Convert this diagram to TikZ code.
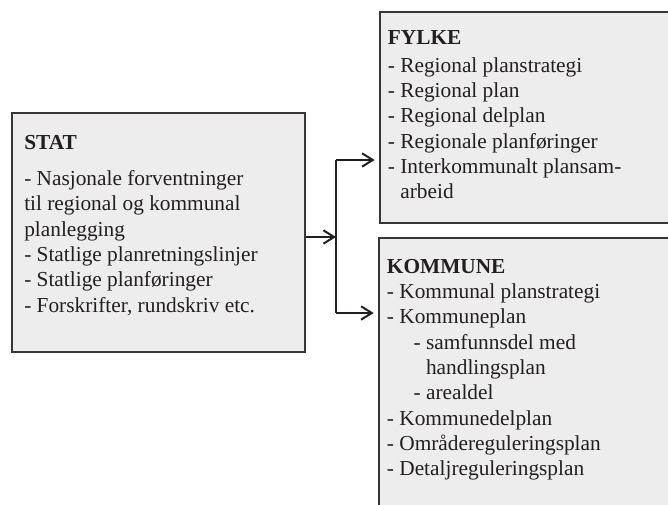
\documentclass[tikz,border=0pt]{standalone}
\usepackage{fontspec}
\setmainfont{Liberation Serif}
\usetikzlibrary{arrows.meta, positioning, fit}
\definecolor{boxgray}{HTML}{EDEDED}
\definecolor{inkdark}{HTML}{231F20}
\tikzset{
  panel/.style={rectangle, draw=inkdark!90, line width=2pt, fill=boxgray, inner sep=0pt},
  paneltext/.style={align=left, inner sep=0pt, text=inkdark,
                    font=\fontsize{16}{19}\selectfont},
  link/.style={draw=inkdark, line width=1.5pt},
  arrow/.style={link, -{Straight Barb[length=8pt,width=10pt]}},
}

\begin{document}
\begin{tikzpicture}[x=0.75pt, y=-0.75pt]

  \clip (0,0) rectangle (668,505);

  % Boxes
  \node[panel, fit={(12,113) (305,352)}] (stat) {};
  \node[panel, fit={(380,12) (700,223)}] (fylke) {};
  \node[panel, fit={(379,238) (700,540)}] (kommune) {};

  % Box texts
  \node[paneltext, below right=17.5pt and 10pt of stat.north west] (stattext)
    {\textbf{STAT}\\[8pt]
     - Nasjonale forventninger\\
     til regional og kommunal\\
     planlegging\\
     - Statlige planretningslinjer\\
     - Statlige planføringer\\
     - Forskrifter, rundskriv etc.};
  \node[paneltext, below right=15pt and 6.75pt of fylke.north west] (fylketext)
    {\textbf{FYLKE}\\[1.5pt]
     - Regional planstrategi\\
     - Regional plan\\
     - Regional delplan\\
     - Regionale planføringer\\
     - Interkommunalt plansam-\\
     \phantom{- }arbeid};
  \node[paneltext, below right=16.5pt and 6.75pt of kommune.north west] (kommunetext)
    {\textbf{KOMMUNE}\\
     - Kommunal planstrategi\\
     - Kommuneplan\\
     \hspace{20pt}- samfunnsdel med\\
     \hspace{20pt}\phantom{- }handlingsplan\\
     \hspace{20pt}- arealdel\\
     - Kommunedelplan\\
     - Områdereguleringsplan\\
     - Detaljreguleringsplan};

  % Connectors
  \coordinate (split) at (336,237);
  \coordinate (upper) at (336,160);
  \coordinate (lower) at (336,313);
  \draw[arrow] (stat.east |- split) -- (split);
  \draw[link] (upper) -- (lower);
  \draw[arrow, shorten >=3pt] (upper) -- (upper -| fylke.west);
  \draw[arrow, shorten >=3pt] (lower) -- (lower -| kommune.west);

\end{tikzpicture}
\end{document}
